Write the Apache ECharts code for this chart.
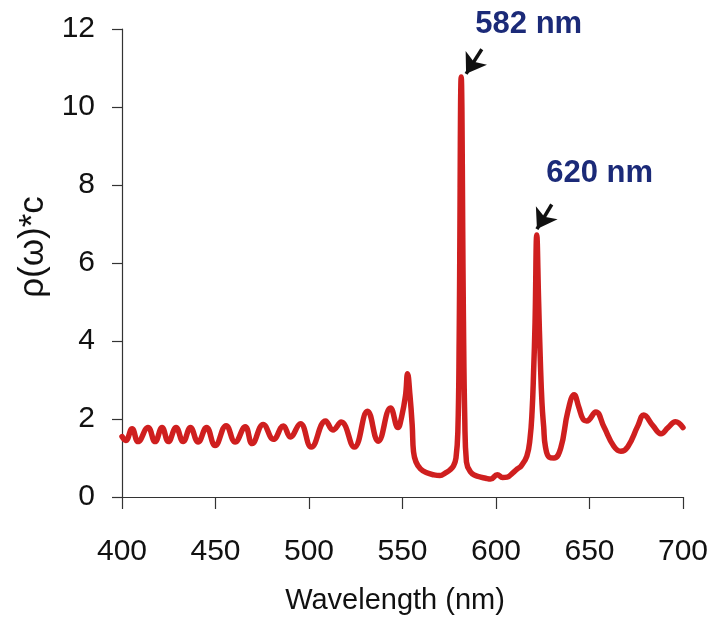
<!DOCTYPE html>
<html>
<head>
<meta charset="utf-8">
<script src="https://cdn.jsdelivr.net/npm/echarts@6/dist/echarts.min.js"></script>
<style>html,body{margin:0;padding:0;background:#fff;}#c{width:713px;height:621px;}</style>
</head>
<body>
<div id="c"></div>
<script>
// Wavelength (nm)
const wavelength = [
  400, 402, 405.4, 408.6, 413.9, 417.7, 421.4, 424.8, 428.9, 432.7,
  436.6, 440.7, 445.2, 449.8, 455.7, 460.5, 465.9, 469.6, 475.5, 481,
  486.3, 490, 495.4, 501.2, 508.9, 512.8, 517.2, 524.2, 531.3, 537,
  543.6, 547.6, 549.5, 551.6, 552.7, 554.0, 555.2, 555.9, 557.2, 559.6,
  563, 566.6, 570, 573, 575.5, 577.3, 578.6, 579.6, 580.3, 581.4,
  582.6, 583.3, 584.2, 586.4, 589, 591.8, 594.5, 597.1, 600.7, 603.5,
  606, 609, 611.4, 613.5, 616.5, 618.2, 619.3, 620.1, 620.9, 621.8,
  622.8, 623.7, 624.6, 625.5, 626.4, 628.5, 631, 634.6, 638.4, 641.8,
  644.3, 646.5, 648.5, 653.4, 657.7, 663, 666.8, 670.5, 675.9, 679,
  683.9, 688.2, 692, 696, 700
];
// rho(omega)*c
const rhoC = [
  1.55, 1.45, 1.75, 1.42, 1.78, 1.42, 1.78, 1.42, 1.78, 1.42,
  1.78, 1.41, 1.78, 1.32, 1.83, 1.41, 1.80, 1.37, 1.86, 1.48,
  1.82, 1.54, 1.88, 1.28, 1.95, 1.72, 1.92, 1.28, 2.20, 1.43,
  2.28, 1.78, 2.05, 2.60, 3.16, 2.60, 1.83, 1.16, 0.90, 0.72,
  0.62, 0.57, 0.55, 0.62, 0.70, 0.80, 1.00, 1.67, 4.00, 10.77,
  4.50, 2.00, 0.90, 0.64, 0.55, 0.51, 0.48, 0.46, 0.57, 0.50,
  0.51, 0.62, 0.72, 0.80, 1.05, 1.50, 2.20, 3.20, 4.50, 6.72,
  5.00, 3.50, 2.40, 1.80, 1.30, 1.02, 1.00, 1.25, 2.19, 2.62,
  2.30, 2.00, 1.95, 2.18, 1.80, 1.30, 1.17, 1.29, 1.83, 2.10,
  1.83, 1.62, 1.78, 1.93, 1.78
];
const xTicks = { min: 400, max: 700, interval: 50 };
const yTicks = { min: 0, max: 12, interval: 2 };
const peakLabels = ['582 nm', '620 nm'];
// arrows: [start, tip] in data coords
const arrows = [
  [[592.4, 11.48], [584.0, 10.85]],
  [[629.8, 7.50], [621.9, 6.87]]
];
const labelAnchors = [[617.5, 12.12], [655.4, 8.3]];

const seriesData = wavelength.map((w, i) => [w, rhoC[i]]);

const chart = echarts.init(document.getElementById('c'), null, { renderer: 'canvas' });
const FONT = '"Liberation Sans", Arial, Helvetica, sans-serif';

chart.setOption({
  animation: false,
  backgroundColor: '#ffffff',
  grid: { left: 122, right: 30, top: 29, bottom: 124, containLabel: false },
  xAxis: {
    type: 'value', min: xTicks.min, max: xTicks.max, interval: xTicks.interval,
    axisLine: { show: true, onZero: false, lineStyle: { color: '#333', width: 1.2 } },
    axisTick: { show: true, inside: false, length: 12, lineStyle: { color: '#333', width: 1.2 } },
    splitLine: { show: false },
    axisLabel: { color: '#111', fontFamily: FONT, fontSize: 30, margin: 40 }
  },
  yAxis: {
    type: 'value', min: yTicks.min, max: yTicks.max, interval: yTicks.interval,
    axisLine: { show: true, lineStyle: { color: '#333', width: 1.2 } },
    axisTick: { show: true, inside: false, length: 10, lineStyle: { color: '#333', width: 1.2 } },
    splitLine: { show: false },
    axisLabel: { color: '#111', fontFamily: FONT, fontSize: 30, margin: 27 }
  },
  series: [{
    type: 'line',
    data: seriesData,
    showSymbol: false,
    smooth: 0.45,
    lineStyle: { color: '#cf1f1f', width: 5.5, join: 'round', cap: 'round' },
    itemStyle: { color: '#cf1f1f' },
    markLine: {
      silent: true,
      symbol: ['none', 'arrow'],
      symbolSize: 19,
      label: { show: false },
      lineStyle: { color: '#111', width: 3.5, type: 'solid' },
      data: arrows.map(a => [{ coord: a[0] }, { coord: a[1] }])
    }
  }]
});

const g = [];
labelAnchors.forEach((p, i) => {
  const px = chart.convertToPixel({ gridIndex: 0 }, p);
  g.push({
    type: 'text', x: px[0], y: px[1],
    style: { text: peakLabels[i], fill: '#1b2a78', font: 'bold 31px ' + FONT, textAlign: 'center', textVerticalAlign: 'middle' }
  });
});
g.push({
  type: 'text', x: 395, y: 601,
  style: { text: 'Wavelength (nm)', fill: '#111', font: '29px ' + FONT, textAlign: 'center', textVerticalAlign: 'middle' }
});
g.push({
  type: 'text', x: 33, y: 247, rotation: Math.PI / 2,
  style: { text: 'ρ(ω)*c', fill: '#111', font: '35px ' + FONT, textAlign: 'center', textVerticalAlign: 'middle' }
});
chart.setOption({ graphic: g });
</script>
</body>
</html>
